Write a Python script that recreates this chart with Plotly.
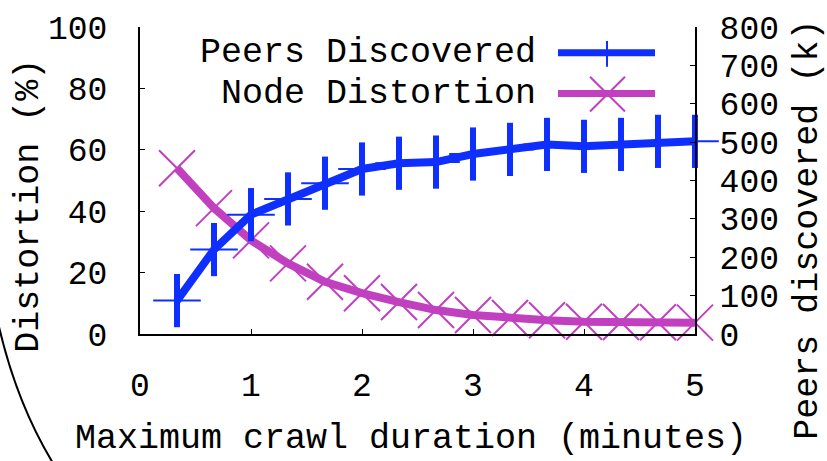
import plotly.graph_objects as go

# ---- data ----
duration_min = [1/3, 2/3, 1.0, 4/3, 5/3, 2.0, 7/3, 8/3, 3.0, 10/3, 11/3, 4.0, 13/3, 14/3, 5.0]
peers_k = [87, 220, 311, 352, 393, 430, 445, 448, 469, 481, 494, 489, 494, 502, 502]
distortion_pct = [54, 41, 30.5, 23, 17, 13.3, 10.4, 7.8, 6.2, 5.2, 4.5, 4.0, 3.9, 3.8, 3.7]

x_ticks = [0, 1, 2, 3, 4, 5]
y_left_ticks = [0, 20, 40, 60, 80, 100]
y_right_ticks = [0, 100, 200, 300, 400, 500, 600, 700, 800]

BLUE = "#0f2fff"
PINK = "#c040c0"
FONT = "Liberation Mono"

W, H = 827, 461
L, R, T, B = 140, 132, 25, 127
PW, PH = W - L - R, H - T - B


def px(x):
    return (x - L) / PW


def py(y):
    return (H - B - y) / PH


fig = go.Figure()
fig.add_trace(go.Scatter(
    x=duration_min, y=distortion_pct, mode="lines+markers", yaxis="y",
    line=dict(color=PINK, width=8),
    marker=dict(symbol="x-thin", size=36, line=dict(color=PINK, width=2)),
    cliponaxis=False, showlegend=False, name="Node Distortion"))
fig.add_trace(go.Scatter(
    x=duration_min, y=peers_k, mode="lines+markers", yaxis="y2",
    line=dict(color=BLUE, width=8),
    marker=dict(symbol="line-ns", size=38, line=dict(color=BLUE, width=6)),
    cliponaxis=False, showlegend=False, name="Peers Discovered"))
fig.add_trace(go.Scatter(
    x=duration_min, y=peers_k, mode="markers", yaxis="y2",
    marker=dict(symbol="cross-thin", size=34, line=dict(color=BLUE, width=2)),
    cliponaxis=False, showlegend=False, hoverinfo="skip"))

axis_common = dict(showgrid=False, zeroline=False, showline=True, linecolor="black",
                   linewidth=2, ticks="inside", ticklen=5, tickcolor="black",
                   tickfont=dict(family=FONT, size=33, color="black"))

fig.update_layout(
    width=W, height=H,
    margin=dict(l=L, r=R, t=T, b=B),
    paper_bgcolor="white", plot_bgcolor="white",
    xaxis=dict(range=[0, 5], tickvals=x_ticks, ticktext=[str(v) for v in x_ticks],
               ticklabelstandoff=20, **axis_common),
    yaxis=dict(range=[0, 100], tickvals=y_left_ticks, ticklabelstandoff=24, **axis_common),
    yaxis2=dict(range=[0, 800], tickvals=y_right_ticks, overlaying="y", side="right",
                ticklabelstandoff=16, **axis_common),
)

txt_font = dict(family=FONT, size=35, color="black")

# axis titles
fig.add_annotation(text="Distortion (%)", xref="paper", yref="paper", x=px(29), y=py(205),
                   xanchor="center", yanchor="middle",
                   textangle=-90, showarrow=False, font=txt_font)
fig.add_annotation(text="Peers discovered (k)", xref="paper", yref="paper", x=px(808), y=py(229),
                   xanchor="center", yanchor="middle",
                   textangle=-90, showarrow=False, font=txt_font)
fig.add_annotation(text="Maximum crawl duration (minutes)", xref="paper", yref="paper",
                   x=px(411), y=py(440), xanchor="center", yanchor="middle",
                   showarrow=False, font=txt_font)

# legend (gnuplot style: text then sample)
fig.add_annotation(text="Peers Discovered", xref="paper", yref="paper", x=px(538), y=py(51),
                   xanchor="right", yanchor="middle", showarrow=False, font=txt_font)
fig.add_annotation(text="Node Distortion", xref="paper", yref="paper", x=px(538), y=py(92),
                   xanchor="right", yanchor="middle", showarrow=False, font=txt_font)
fig.add_shape(type="line", xref="paper", yref="paper", x0=px(558), x1=px(655), y0=py(51), y1=py(51),
              line=dict(color=BLUE, width=7))
fig.add_shape(type="line", xref="paper", yref="paper", x0=px(607), x1=px(607), y0=py(39), y1=py(65),
              line=dict(color=BLUE, width=2))
fig.add_shape(type="line", xref="paper", yref="paper", x0=px(558), x1=px(655), y0=py(92), y1=py(92),
              line=dict(color=PINK, width=7))
fig.add_shape(type="line", xref="paper", yref="paper", x0=px(590), x1=px(625), y0=py(75), y1=py(110),
              line=dict(color=PINK, width=2))
fig.add_shape(type="line", xref="paper", yref="paper", x0=px(590), x1=px(625), y0=py(110), y1=py(75),
              line=dict(color=PINK, width=2))

# decorative arc at bottom-left
p0 = (px(-3), py(318))
p1 = (px(15), py(401))
p2 = (px(53), py(464))
fig.add_shape(type="path", xref="paper", yref="paper",
              path=f"M {p0[0]},{p0[1]} Q {p1[0]},{p1[1]} {p2[0]},{p2[1]}",
              line=dict(color="black", width=2))

fig.write_html("out.html")
